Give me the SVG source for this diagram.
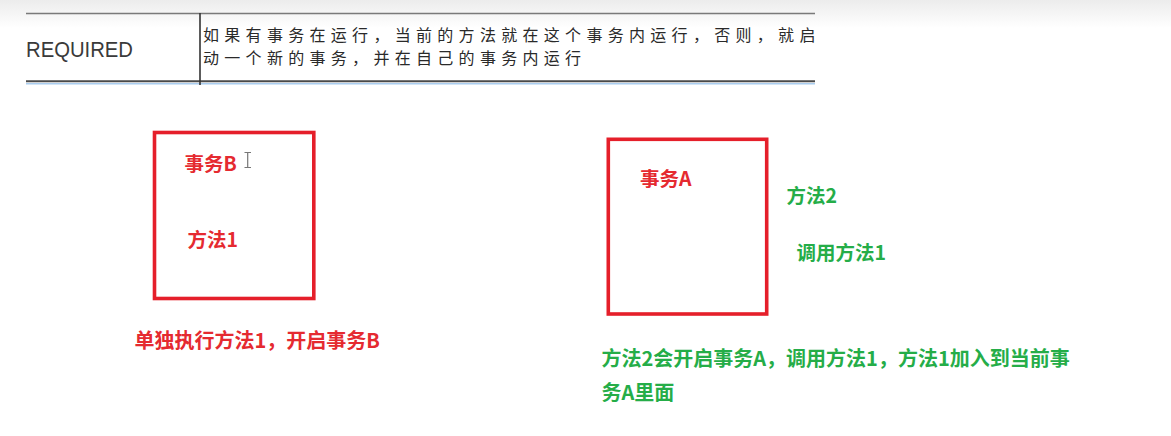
<svg xmlns="http://www.w3.org/2000/svg" width="1171" height="436" viewBox="0 0 1171 436">
  <defs>
    <linearGradient id="topShade" x1="0" y1="0" x2="0" y2="1">
      <stop offset="0" stop-color="#ececec"/>
      <stop offset="1" stop-color="#ffffff"/>
    </linearGradient>
    <clipPath id="tableClip">
      <rect x="0" y="0" width="815" height="90"/>
    </clipPath>
  </defs>
  <style>
    .box { fill: none; stroke: #e51f2a; stroke-width: 3.6; }
    .cjk { font-family: "Noto Sans CJK SC", "Liberation Sans", sans-serif; }
    .lbl { font-family: "Noto Sans CJK SC", "Liberation Sans", sans-serif; font-weight: bold; font-size: 19.5px; }
    .note { font-family: "Noto Sans CJK SC", "Liberation Sans", sans-serif; font-weight: bold; font-size: 20px; }
    .red { fill: #e52a30; }
    .green { fill: #25ad48; }
    .tbl { fill: #2a2a2a; font-size: 16px; letter-spacing: 5.3px; }
  </style>
  <rect x="0" y="0" width="1171" height="436" fill="#ffffff"/>
  <rect x="0" y="0" width="1171" height="28" fill="url(#topShade)"/>

  <g id="table">
    <line x1="26" y1="13.5" x2="815" y2="13.5" stroke="#7a7a7a" stroke-width="1.5"/>
    <line x1="26" y1="81.2" x2="815" y2="81.2" stroke="#4a4a4a" stroke-width="2"/>
    <line x1="26" y1="83.8" x2="815" y2="83.8" stroke="#a9cdf0" stroke-width="1.6"/>
    <line x1="200" y1="13" x2="200" y2="85" stroke="#333333" stroke-width="1.6"/>
    <text x="26" y="56.5" font-family="Liberation Sans, Arial, sans-serif" font-size="22" fill="#3a3a3a" textLength="107" lengthAdjust="spacingAndGlyphs">REQUIRED</text>
    <g clip-path="url(#tableClip)">
      <text class="cjk tbl" x="203" y="41">如果有事务在运行，当前的方法就在这个事务内运行，否则，就启</text>
    </g>
    <text class="cjk tbl" x="203" y="63.5">动一个新的事务，并在自己的事务内运行</text>
  </g>

  <g id="connectors"></g>

  <g id="boxB">
    <rect class="box" x="154.5" y="132.5" width="159.3" height="166"/>
    <text class="lbl red" x="184.5" y="171">事务B</text>
    <text class="lbl red" x="187.5" y="246.5">方法1</text>
  </g>

  <g id="cursor" stroke="#777777" stroke-width="1.2" fill="none">
    <path d="M244.5 152.5 H251 M247.7 152.5 V167.5 M244.5 167.5 H251"/>
  </g>

  <g id="boxA">
    <rect class="box" x="608.3" y="139.3" width="158.4" height="174.7"/>
    <text class="lbl red" x="640" y="185.5">事务A</text>
  </g>

  <g id="method2">
    <text class="lbl green" x="786.5" y="203">方法2</text>
    <text class="lbl green" x="796.5" y="259.5">调用方法1</text>
  </g>

  <g id="noteB">
    <text class="note red" x="134.5" y="348">单独执行方法1，开启事务B</text>
  </g>

  <g id="noteA">
    <text class="note green" x="601.5" y="366">方法2会开启事务A，调用方法1，方法1加入到当前事</text>
    <text class="note green" x="601.5" y="400">务A里面</text>
  </g>
</svg>
